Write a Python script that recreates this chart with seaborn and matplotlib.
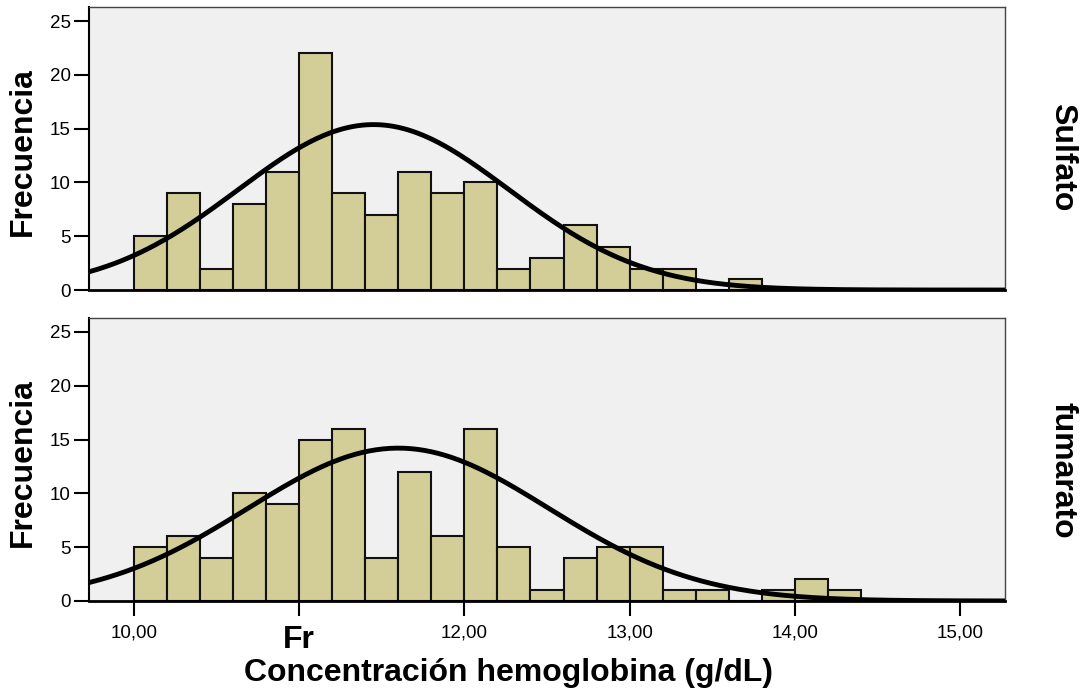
import numpy as np
import pandas as pd
import seaborn as sns
import matplotlib.pyplot as plt

# ---- data -------------------------------------------------------------
bin_start = 10.0
bin_width = 0.2
sulfato_counts = [5, 9, 2, 8, 11, 22, 9, 7, 11, 9, 10, 2, 3, 6, 4, 2, 2, 0, 1]
fumarato_counts = [5, 6, 4, 10, 9, 15, 16, 4, 12, 6, 16, 5, 1, 4, 5, 5, 1, 1, 0, 1, 2, 1]
groups = ["Sulfato", "fumarato"]

# fitted normal curves (mean, sd, n used for count scaling)
curve_mean = [11.45, 11.60]
curve_sd = [0.82, 0.91]
curve_n = [158, 162]

x_ticks = [10, 11, 12, 13, 14, 15]
x_tick_labels = ["10,00", "Fr", "12,00", "13,00", "14,00", "15,00"]
y_ticks = [0, 5, 10, 15, 20, 25]
x_label = "Concentración hemoglobina (g/dL)"
y_label = "Frecuencia"

# ---- style -------------------------------------------------------------
sns.set_theme(style="white")
plt.rcParams["font.family"] = ["Liberation Sans", "DejaVu Sans"]

bar_color = "#d3ce98"
panel_bg = "#f0f0f0"
xlim = (9.727, 15.273)
ylim = (0, 26.3)
big_font = 23
tick_font = 13.5

fig = plt.figure(figsize=(10.81, 6.95), dpi=100)
ax_top = fig.add_axes([0.0823, 0.5827, 0.8474, 0.4072])
ax_bot = fig.add_axes([0.0823, 0.1353, 0.8474, 0.4072])
axes = [ax_top, ax_bot]
all_counts = [sulfato_counts, fumarato_counts]
side_offsets = [0.030, 0.037]

for i, (ax, counts, group) in enumerate(zip(axes, all_counts, groups)):
    n_bins = len(counts)
    edges = bin_start + bin_width * np.arange(n_bins + 1)
    centers = edges[:-1] + bin_width / 2
    df = pd.DataFrame({"hb": centers, "freq": counts})

    ax.set_facecolor(panel_bg)
    sns.histplot(data=df, x="hb", weights="freq", binwidth=bin_width,
                 binrange=(float(edges[0]), float(edges[-1])), ax=ax,
                 color=bar_color, edgecolor="#111111", linewidth=1.5,
                 alpha=1.0, stat="count")

    xs = np.linspace(xlim[0], xlim[1], 400)
    ys = (curve_n[i] * bin_width / (curve_sd[i] * np.sqrt(2 * np.pi))
          * np.exp(-0.5 * ((xs - curve_mean[i]) / curve_sd[i]) ** 2))
    sns.lineplot(x=xs, y=ys, ax=ax, color="black", linewidth=3.5,
                 estimator=None, zorder=5)

    ax.set_xlim(*xlim)
    ax.set_ylim(*ylim)
    ax.set_yticks(y_ticks)
    ax.set_yticklabels([str(v) for v in y_ticks])
    ax.tick_params(axis="y", left=True, length=11, width=1.5, color="black",
                   labelsize=tick_font, pad=2, labelcolor="black")

    for side in ("top", "right"):
        ax.spines[side].set_color("#444444")
        ax.spines[side].set_linewidth(1.0)
    ax.spines["left"].set_color("black")
    ax.spines["left"].set_linewidth(1.5)
    ax.spines["bottom"].set_color("black")
    ax.spines["bottom"].set_linewidth(2.0)

    ax.set_ylabel(y_label, fontsize=big_font, fontweight="bold", va="center",
                  color="black")
    ax.yaxis.set_label_coords(-0.0725, 0.489)

    ax.text(1.0 + 57 / 916, 0.5 - side_offsets[i], group, rotation=270,
            transform=ax.transAxes, ha="center", va="center",
            fontsize=big_font, fontweight="bold", color="black")

# top panel: no x ticks
ax_top.set_xticks(x_ticks)
ax_top.tick_params(axis="x", bottom=False, labelbottom=False)
ax_top.set_xlabel("")

# bottom panel x axis
ax_bot.set_xticks(x_ticks)
ax_bot.set_xticklabels(x_tick_labels)
ax_bot.tick_params(axis="x", bottom=True, length=11, width=1.5, color="black",
                   labelsize=tick_font, pad=6, labelcolor="black")
fr_label = ax_bot.get_xticklabels()[1]
fr_label.set_fontsize(big_font)
fr_label.set_fontweight("bold")

ax_bot.set_xlabel(x_label, fontsize=big_font, fontweight="bold", va="center",
                  color="black")
ax_bot.xaxis.set_label_coords(0.4585, -0.256)

fig.savefig("out.png", dpi=100, facecolor="white")
